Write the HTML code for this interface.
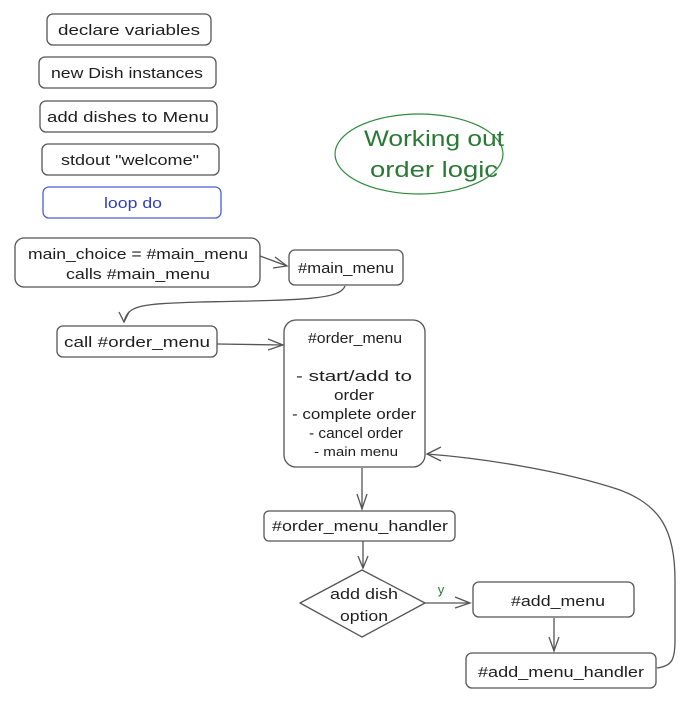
<!DOCTYPE html>
<html><head><meta charset="utf-8"><style>
html,body{margin:0;padding:0;background:#fff;}
svg{display:block;}
text{font-family:"Liberation Sans",sans-serif;font-size:15px;fill:#1e1e1e;text-anchor:middle;}
.b{fill:none;stroke:#555;stroke-width:1.3;}
.a{fill:none;stroke:#555;stroke-width:1.3;}
</style></head><body>
<svg width="694" height="705" viewBox="0 0 694 705" xmlns="http://www.w3.org/2000/svg">
<rect class="b" x="47" y="14" width="164" height="31" rx="6"/>
<text x="129" y="35" textLength="142" lengthAdjust="spacingAndGlyphs">declare variables</text>
<rect class="b" x="39" y="57" width="177" height="31" rx="6"/>
<text x="127" y="78" textLength="152" lengthAdjust="spacingAndGlyphs">new Dish instances</text>
<rect class="b" x="40" y="101" width="177" height="31" rx="6"/>
<text x="128" y="122" textLength="162" lengthAdjust="spacingAndGlyphs">add dishes to Menu</text>
<rect class="b" x="42" y="144" width="177" height="31" rx="6"/>
<text x="130" y="165" textLength="138" lengthAdjust="spacingAndGlyphs">stdout "welcome"</text>
<rect x="43" y="187" width="178" height="31" rx="6" fill="none" stroke="#4a5fd0" stroke-width="1.3"/>
<text x="133" y="208" style="fill:#2f3fb8" textLength="58" lengthAdjust="spacingAndGlyphs">loop do</text>

<ellipse cx="419" cy="154" rx="84" ry="40" fill="none" stroke="#2f8a3c" stroke-width="1.2"/>
<text x="434" y="146" style="font-size:22px;fill:#2a7a35" textLength="140" lengthAdjust="spacingAndGlyphs">Working out</text>
<text x="434" y="177" style="font-size:22px;fill:#2a7a35" textLength="128" lengthAdjust="spacingAndGlyphs">order logic</text>

<rect class="b" x="15" y="238" width="245" height="49" rx="9"/>
<text x="138" y="259" textLength="220" lengthAdjust="spacingAndGlyphs">main_choice = #main_menu</text>
<text x="138" y="279" textLength="144" lengthAdjust="spacingAndGlyphs">calls #main_menu</text>
<rect class="b" x="289" y="250" width="114" height="35" rx="6"/>
<text x="346" y="273" textLength="96" lengthAdjust="spacingAndGlyphs">#main_menu</text>
<path class="a" d="M260 256 L287 266"/><path class="a" d="M275 257 L287 266 L273 268"/>

<path class="a" d="M345 286 C340 300,300 300,200 302 C140 304,128 305,124 322"/>
<path class="a" d="M119 312 L124 322 L129 312"/>

<rect class="b" x="57" y="326" width="160" height="31" rx="6"/>
<text x="137" y="347" textLength="146" lengthAdjust="spacingAndGlyphs">call #order_menu</text>
<path class="a" d="M217 344 L283 345"/><path class="a" d="M268 339 L283 345 L268 350"/>

<rect class="b" x="284" y="320" width="141" height="147" rx="12"/>
<text x="355" y="343" textLength="94" lengthAdjust="spacingAndGlyphs">#order_menu</text>
<text x="354" y="381" textLength="116" lengthAdjust="spacingAndGlyphs">- start/add to</text>
<text x="354" y="400" textLength="40" lengthAdjust="spacingAndGlyphs">order</text>
<text x="354" y="419" textLength="124" lengthAdjust="spacingAndGlyphs">- complete order</text>
<text x="356" y="438" textLength="94" lengthAdjust="spacingAndGlyphs">- cancel order</text>
<text x="356" y="456" style="font-size:13px" textLength="84" lengthAdjust="spacingAndGlyphs">- main menu</text>

<path class="a" d="M362 468 L362 509"/><path class="a" d="M357 494 L362 509 L367 494"/>
<rect class="b" x="264" y="511" width="191" height="30" rx="5"/>
<text x="360" y="531" textLength="176" lengthAdjust="spacingAndGlyphs">#order_menu_handler</text>
<path class="a" d="M363 541 L363 568"/><path class="a" d="M358 556 L363 568 L368 556"/>

<path class="b" d="M362 570 L425 603 L362 637 L300 603 Z" stroke-linejoin="round"/>
<text x="364" y="599" textLength="68" lengthAdjust="spacingAndGlyphs">add dish</text>
<text x="364" y="621" textLength="48" lengthAdjust="spacingAndGlyphs">option</text>
<text x="441" y="594" style="font-size:13px;fill:#2a7a35">y</text>
<path class="a" d="M425 603 L470 603"/><path class="a" d="M455 597 L470 603 L455 608"/>

<rect class="b" x="473" y="582" width="161" height="35" rx="6"/>
<text x="558" y="606" textLength="94" lengthAdjust="spacingAndGlyphs">#add_menu</text>
<path class="a" d="M554 618 L554 651"/><path class="a" d="M549 637 L554 651 L559 637"/>
<rect class="b" x="466" y="653" width="190" height="35" rx="6"/>
<text x="561" y="677" textLength="166" lengthAdjust="spacingAndGlyphs">#add_menu_handler</text>

<path class="a" d="M657 668 C672 666,675 660,675 640 L675 580 C675 530,660 505,620 490 C560 470,480 458,427 454"/>
<path class="a" d="M441 447 L427 454 L441 461"/>
</svg>
</body></html>
